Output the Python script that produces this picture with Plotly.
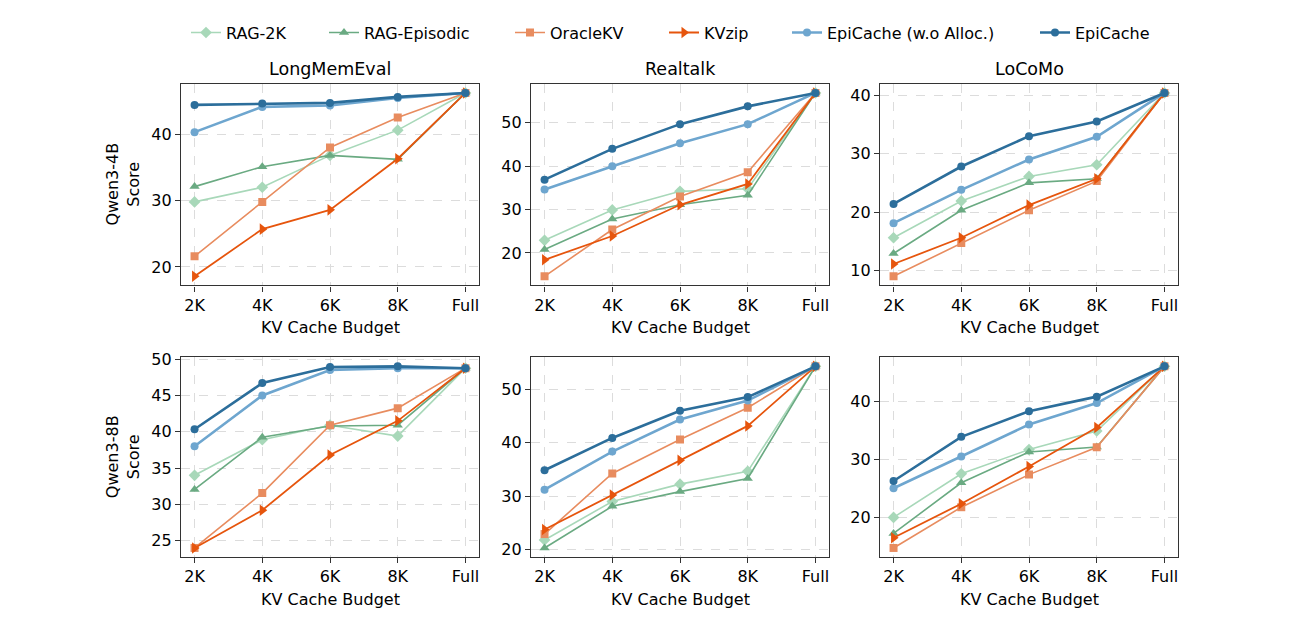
import plotly.graph_objects as go

budgets = ["2K", "4K", "6K", "8K", "Full"]
methods = ["RAG-2K", "RAG-Episodic", "OracleKV", "KVzip", "EpiCache (w.o Alloc.)", "EpiCache"]
datasets = ["LongMemEval", "Realtalk", "LoCoMo"]
models = ["Qwen3-4B", "Qwen3-8B"]

# Qwen3-4B
lme_4b_rag2k = [29.8, 32.0, 36.8, 40.6, 46.2]
lme_4b_ragepi = [32.1, 35.1, 36.8, 36.2, 46.2]
lme_4b_oracle = [21.6, 29.8, 38.0, 42.5, 46.2]
lme_4b_kvzip = [18.6, 25.7, 28.6, 36.3, 46.2]
lme_4b_epiwo = [40.3, 44.1, 44.3, 45.45, 46.2]
lme_4b_epi = [44.4, 44.6, 44.7, 45.6, 46.2]

rt_4b_rag2k = [22.9, 29.9, 34.2, 34.8, 56.9]
rt_4b_ragepi = [20.8, 27.8, 31.1, 33.3, 56.9]
rt_4b_oracle = [14.6, 25.4, 33.0, 38.6, 56.9]
rt_4b_kvzip = [18.4, 23.9, 31.1, 35.9, 56.9]
rt_4b_epiwo = [34.6, 40.0, 45.3, 49.7, 56.9]
rt_4b_epi = [36.9, 44.0, 49.7, 53.8, 56.9]

lc_4b_rag2k = [15.6, 21.9, 26.1, 28.1, 40.4]
lc_4b_ragepi = [12.9, 20.3, 25.0, 25.7, 40.4]
lc_4b_oracle = [9.0, 14.7, 20.3, 25.3, 40.4]
lc_4b_kvzip = [11.1, 15.6, 21.2, 25.7, 40.4]
lc_4b_epiwo = [18.1, 23.8, 29.0, 32.9, 40.4]
lc_4b_epi = [21.4, 27.8, 33.0, 35.5, 40.4]

# Qwen3-8B
lme_8b_rag2k = [34.0, 38.9, 40.9, 39.4, 48.75]
lme_8b_ragepi = [32.05, 39.25, 40.8, 40.9, 48.75]
lme_8b_oracle = [24.0, 31.55, 40.9, 43.25, 48.75]
lme_8b_kvzip = [24.0, 29.2, 36.8, 41.5, 48.75]
lme_8b_epiwo = [38.0, 45.0, 48.5, 48.75, 48.75]
lme_8b_epi = [40.35, 46.7, 48.9, 49.0, 48.75]

rt_8b_rag2k = [21.8, 29.0, 32.25, 34.65, 54.3]
rt_8b_ragepi = [20.3, 28.1, 30.85, 33.3, 54.3]
rt_8b_oracle = [22.9, 34.25, 40.6, 46.55, 54.3]
rt_8b_kvzip = [23.75, 30.2, 36.7, 43.15, 54.3]
rt_8b_epiwo = [31.2, 38.35, 44.35, 47.9, 54.3]
rt_8b_epi = [34.85, 40.9, 46.0, 48.55, 54.3]

lc_8b_rag2k = [20.05, 27.55, 31.7, 34.9, 46.0]
lc_8b_ragepi = [17.3, 26.0, 31.3, 32.15, 46.0]
lc_8b_oracle = [14.8, 21.8, 27.4, 32.1, 46.0]
lc_8b_kvzip = [16.55, 22.4, 28.8, 35.5, 46.0]
lc_8b_epiwo = [25.05, 30.5, 36.0, 39.7, 46.0]
lc_8b_epi = [26.3, 33.9, 38.3, 40.8, 46.0]

panels = [
    [lme_4b_rag2k, lme_4b_ragepi, lme_4b_oracle, lme_4b_kvzip, lme_4b_epiwo, lme_4b_epi],
    [rt_4b_rag2k, rt_4b_ragepi, rt_4b_oracle, rt_4b_kvzip, rt_4b_epiwo, rt_4b_epi],
    [lc_4b_rag2k, lc_4b_ragepi, lc_4b_oracle, lc_4b_kvzip, lc_4b_epiwo, lc_4b_epi],
    [lme_8b_rag2k, lme_8b_ragepi, lme_8b_oracle, lme_8b_kvzip, lme_8b_epiwo, lme_8b_epi],
    [rt_8b_rag2k, rt_8b_ragepi, rt_8b_oracle, rt_8b_kvzip, rt_8b_epiwo, rt_8b_epi],
    [lc_8b_rag2k, lc_8b_ragepi, lc_8b_oracle, lc_8b_kvzip, lc_8b_epiwo, lc_8b_epi],
]
dticks = [10, 10, 10, 5, 10, 10]

colors = ["#a8d8b9", "#6aaa82", "#e88c5f", "#e6550d", "#6ea6cf", "#2c6e9b"]
symbols = ["diamond", "triangle-up", "square", "triangle-right", "circle", "circle"]
msizes = [9, 9, 8, 10, 8, 8]
lwidths = [1.6, 1.6, 1.6, 1.8, 2.6, 2.6]

W, H = 1290, 622
col_px = [(181, 479), (531, 829), (880, 1178)]
row_px = [(77, 282), (355, 558)]
legend_text_px = [226, 364, 550, 704, 827, 1075]

FONT = "DejaVu Sans"
fig = go.Figure()
layout = {}
annotations = []
xs = list(range(len(budgets)))
legend_keys = ["legend" if m == 0 else f"legend{m + 1}" for m in range(len(methods))]

for p, series in enumerate(panels):
    r, c = divmod(p, 3)
    idx = p + 1
    xa = "x" if idx == 1 else f"x{idx}"
    ya = "y" if idx == 1 else f"y{idx}"
    for m, vals in enumerate(series):
        fig.add_trace(go.Scatter(
            x=xs, y=vals, mode="lines+markers", name=methods[m],
            legendgroup=methods[m], showlegend=(p == 0), legend=legend_keys[m],
            line=dict(color=colors[m], width=lwidths[m]),
            marker=dict(symbol=symbols[m], size=msizes[m], color=colors[m],
                        line=dict(width=0)),
            xaxis=xa, yaxis=ya,
        ))
    allv = [v for s in series for v in s]
    lo, hi = min(allv), max(allv)
    pad = 0.05 * (hi - lo)
    x0, x1 = col_px[c]
    y0, y1 = row_px[r]
    axis_common = dict(
        showline=True, mirror=True, linecolor="#333333", linewidth=1.2,
        ticks="outside", ticklen=5, tickwidth=1, tickcolor="#333333",
        tickfont=dict(family=FONT, size=16, color="black"),
        showgrid=True, gridcolor="#dcdcdc", gridwidth=1, griddash="dash",
        zeroline=False,
    )
    layout["xaxis" if idx == 1 else f"xaxis{idx}"] = dict(
        axis_common, domain=[x0 / W, x1 / W], anchor=ya,
        range=[-0.2, len(budgets) - 1 + 0.2],
        tickmode="array", tickvals=xs, ticktext=budgets,
    )
    layout["yaxis" if idx == 1 else f"yaxis{idx}"] = dict(
        axis_common, domain=[1 - y1 / H, 1 - y0 / H], anchor=xa,
        range=[lo - pad, hi + pad], dtick=dticks[p], tick0=0,
    )
    annotations.append(dict(
        text="KV Cache Budget", x=(x0 + x1) / 2 / W, y=1 - y1 / H,
        xref="paper", yref="paper", xanchor="center", yanchor="top",
        yshift=-31, showarrow=False, font=dict(family=FONT, size=16, color="black"),
    ))
    if r == 0:
        annotations.append(dict(
            text=datasets[c], x=(x0 + x1) / 2 / W, y=1 - y0 / H,
            xref="paper", yref="paper", xanchor="center", yanchor="bottom",
            yshift=3, showarrow=False, font=dict(family=FONT, size=17.5, color="black"),
        ))
    if c == 0:
        annotations.append(dict(
            text=f"{models[r]}<br>Score", x=123 / W, y=1 - (y0 + y1) / 2 / H,
            xref="paper", yref="paper", xanchor="center", yanchor="middle",
            textangle=-90, showarrow=False,
            font=dict(family=FONT, size=16, color="black"),
        ))

for m, key in enumerate(legend_keys):
    layout[key] = dict(
        orientation="h", x=(legend_text_px[m] - 40) / W, xanchor="left",
        y=1 - 25 / H, yanchor="middle",
        font=dict(family=FONT, size=16, color="black"),
        bgcolor="rgba(0,0,0,0)", borderwidth=0,
    )

fig.update_layout(
    width=W, height=H,
    margin=dict(l=0, r=0, t=0, b=0),
    paper_bgcolor="white", plot_bgcolor="white",
    font=dict(family=FONT, size=16, color="black"),
    annotations=annotations,
    showlegend=True,
    **layout,
)

fig.write_html("out.html")
